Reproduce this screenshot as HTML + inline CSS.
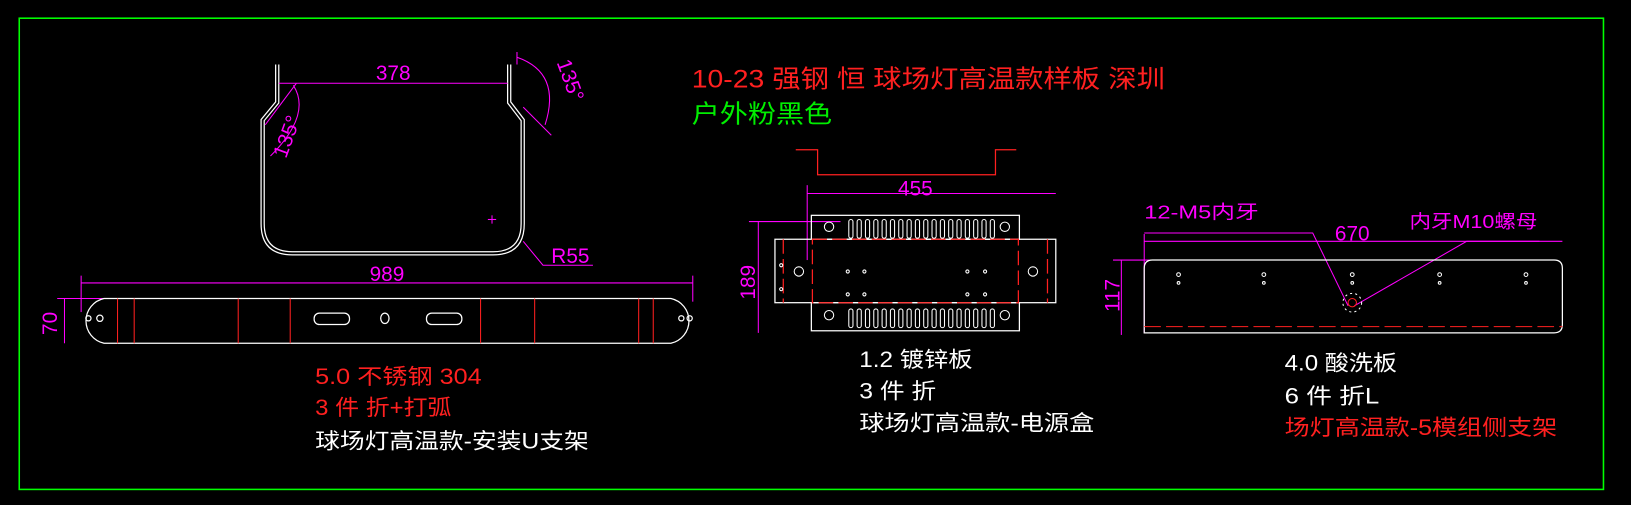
<!DOCTYPE html><html><head><meta charset="utf-8"><style>body{margin:0;background:#000;width:1631px;height:505px;overflow:hidden}svg{display:block}text{font-family:"Liberation Sans","Noto Sans CJK SC",sans-serif}</style></head><body>
<svg width="1631" height="505" viewBox="0 0 1631 505" xmlns="http://www.w3.org/2000/svg">
<g transform="scale(1.0402)">
<rect x="18.5" y="17.5" width="1523" height="453" fill="none" stroke="#00ff00" stroke-width="1.5"/>
<!-- U bracket -->
<g fill="none" stroke="#fff" stroke-width="1.2">
<path d="M265,62 V98 L251,115 V215 Q251,245 281,245 H474 Q504,245 504,215 V115 L491,98 V62"/>
<path d="M268,62 V99 L254,116 V215 Q254,242 281,242 H474 Q501,242 501,215 V116 L488,99 V62"/>
</g>
<g stroke="#ff00ff" fill="none" stroke-width="1">
<line x1="268" y1="80" x2="488" y2="80"/>
<path d="M282,82 Q300,110 260,150"/>
<line x1="255" y1="120" x2="285" y2="80"/>
<path d="M497,55 Q540,70 524,120"/>
<line x1="497" y1="50" x2="497" y2="62"/><line x1="503" y1="103" x2="530" y2="130"/>
<polyline points="503,232 522,255 570,255"/>
<line x1="469" y1="211" x2="477" y2="211"/><line x1="473" y1="207" x2="473" y2="215"/>
</g>
<text x="378" y="77" fill="#ff00ff" font-size="20" text-anchor="middle">378</text>
<text x="0" y="0" fill="#ff00ff" font-size="20" transform="translate(275,153) rotate(-70)">135°</text>
<text x="0" y="0" fill="#ff00ff" font-size="20" transform="translate(535,60) rotate(70)">135°</text>
<text x="530" y="253" fill="#ff00ff" font-size="20">R55</text>
<!-- bar -->
<g stroke="#ff00ff" stroke-width="1" fill="none">
<line x1="78" y1="272" x2="666" y2="272"/><line x1="78" y1="265" x2="78" y2="300"/><line x1="666" y1="265" x2="666" y2="290"/>
<line x1="62" y1="287" x2="62" y2="330"/><line x1="55" y1="287" x2="100" y2="287"/>
</g>
<text x="372" y="270" fill="#ff00ff" font-size="20" text-anchor="middle">989</text>
<text transform="translate(55,322) rotate(-90)" fill="#ff00ff" font-size="20">70</text>
<path d="M100,287 H645 A22,22 0 0 1 645,330 H100 A22,22 0 0 1 100,287Z" fill="none" stroke="#fff" stroke-width="1.2"/>
<g stroke="#ff2020" stroke-width="1"><line x1="113" y1="287" x2="113" y2="330"/><line x1="129" y1="287" x2="129" y2="330"/><line x1="229" y1="287" x2="229" y2="330"/><line x1="279" y1="287" x2="279" y2="330"/><line x1="462" y1="287" x2="462" y2="330"/><line x1="514" y1="287" x2="514" y2="330"/><line x1="614" y1="287" x2="614" y2="330"/><line x1="628" y1="287" x2="628" y2="330"/></g>
<g fill="none" stroke="#fff" stroke-width="1.2"><rect x="302" y="301" width="34" height="11" rx="5"/><rect x="410" y="301" width="34" height="11" rx="5"/><ellipse cx="370" cy="306" rx="4" ry="5"/><circle cx="85" cy="306" r="2.5"/><circle cx="96" cy="306" r="3"/><circle cx="655" cy="306" r="2.5"/><circle cx="663" cy="306" r="2.5"/></g>
<g font-size="21"><text x="303" y="369" fill="#ff2020" textLength="160" lengthAdjust="spacingAndGlyphs">5.0 不锈钢 304</text><text x="303" y="399" fill="#ff2020" textLength="131" lengthAdjust="spacingAndGlyphs">3 件 折+打弧</text><text x="303" y="431" fill="#fff" textLength="263" lengthAdjust="spacingAndGlyphs">球场灯高温款-安装U支架</text></g>
<text x="665" y="84" fill="#ff2020" font-size="24" textLength="455" lengthAdjust="spacingAndGlyphs">10-23 强钢 恒 球场灯高温款样板 深圳</text>
<text x="665" y="118" fill="#00ee00" font-size="24" textLength="135" lengthAdjust="spacingAndGlyphs">户外粉黑色</text>
<!-- power box -->
<polyline points="765,144 786,144 786,168 957,168 957,144 977,144" fill="none" stroke="#ff2020" stroke-width="1.2"/>
<g stroke="#ff00ff" stroke-width="1" fill="none"><line x1="776" y1="186" x2="1015" y2="186"/><line x1="776" y1="178" x2="776" y2="250"/><line x1="729" y1="213" x2="729" y2="320"/><line x1="720" y1="213" x2="808" y2="213"/></g>
<text x="880" y="188" fill="#ff00ff" font-size="20" text-anchor="middle">455</text>
<text transform="translate(726,288) rotate(-90)" fill="#ff00ff" font-size="20">189</text>
<g fill="none" stroke="#fff" stroke-width="1.2"><rect x="780" y="207" width="200" height="23"/><rect x="745" y="230" width="270" height="61"/><rect x="780" y="291" width="200" height="27"/></g>
<g fill="none" stroke="#ff2020" stroke-width="1.2" stroke-dasharray="14,5"><rect x="781" y="230" width="198" height="61"/><line x1="753" y1="230" x2="753" y2="291"/><line x1="1007" y1="230" x2="1007" y2="291"/></g>
<g fill="none" stroke="#fff" stroke-width="1">
<g id="sl"><rect x="816" y="211" width="4" height="18" rx="2"/><rect x="824" y="211" width="4" height="18" rx="2"/><rect x="832" y="211" width="4" height="18" rx="2"/><rect x="840" y="211" width="4" height="18" rx="2"/><rect x="848" y="211" width="4" height="18" rx="2"/><rect x="856" y="211" width="4" height="18" rx="2"/><rect x="864" y="211" width="4" height="18" rx="2"/><rect x="872" y="211" width="4" height="18" rx="2"/><rect x="880" y="211" width="4" height="18" rx="2"/><rect x="888" y="211" width="4" height="18" rx="2"/><rect x="896" y="211" width="4" height="18" rx="2"/><rect x="904" y="211" width="4" height="18" rx="2"/><rect x="912" y="211" width="4" height="18" rx="2"/><rect x="920" y="211" width="4" height="18" rx="2"/><rect x="928" y="211" width="4" height="18" rx="2"/><rect x="936" y="211" width="4" height="18" rx="2"/><rect x="944" y="211" width="4" height="18" rx="2"/><rect x="952" y="211" width="4" height="18" rx="2"/></g>
<use href="#sl" y="86"/>
<circle cx="797" cy="218" r="4.5"/><circle cx="966" cy="218" r="4.5"/><circle cx="797" cy="303" r="4.5"/><circle cx="966" cy="303" r="4.5"/><circle cx="768" cy="261" r="4.5"/><circle cx="993" cy="261" r="4.5"/>
<circle cx="815" cy="261" r="1.5"/><circle cx="815" cy="283" r="1.5"/><circle cx="831" cy="261" r="1.5"/><circle cx="831" cy="283" r="1.5"/><circle cx="930" cy="261" r="1.5"/><circle cx="930" cy="283" r="1.5"/><circle cx="947" cy="261" r="1.5"/><circle cx="947" cy="283" r="1.5"/><circle cx="751" cy="255" r="1.5"/><circle cx="751" cy="278" r="1.5"/>
</g>
<g font-size="21" fill="#fff"><text x="826" y="353" textLength="109" lengthAdjust="spacingAndGlyphs">1.2 镀锌板</text><text x="826" y="383" textLength="74" lengthAdjust="spacingAndGlyphs">3 件 折</text><text x="826" y="414" textLength="226" lengthAdjust="spacingAndGlyphs">球场灯高温款-电源盒</text></g>
<!-- side plate -->
<g stroke="#ff00ff" stroke-width="1" fill="none"><line x1="1100" y1="232" x2="1502" y2="232"/><line x1="1100" y1="225" x2="1100" y2="320"/><line x1="1078" y1="250" x2="1078" y2="322"/><line x1="1070" y1="250" x2="1105" y2="250"/>
<polyline points="1100,224 1262,224 1296,294"/><polyline points="1480,232 1410,232 1302,294"/></g>
<text x="1300" y="231" fill="#ff00ff" font-size="20" text-anchor="middle">670</text>
<text transform="translate(1076,300) rotate(-90)" fill="#ff00ff" font-size="20">117</text>
<text x="1100" y="210" fill="#ff00ff" font-size="18" textLength="110" lengthAdjust="spacingAndGlyphs">12-M5内牙</text>
<text x="1355" y="219" fill="#ff00ff" font-size="18" textLength="123" lengthAdjust="spacingAndGlyphs">内牙M10螺母</text>
<path d="M1108,250 H1494 Q1502,250 1502,258 V312 Q1502,320 1494,320 H1100 V258 Q1100,250 1108,250Z" fill="none" stroke="#fff" stroke-width="1.2"/>
<line x1="1100" y1="314" x2="1502" y2="314" stroke="#ff2020" stroke-dasharray="16,5"/>
<g fill="none" stroke="#fff" stroke-width="1"><circle cx="1133" cy="264" r="1.8"/><circle cx="1133" cy="272" r="1.3"/><circle cx="1215" cy="264" r="1.8"/><circle cx="1215" cy="272" r="1.3"/><circle cx="1300" cy="264" r="1.8"/><circle cx="1300" cy="272" r="1.3"/><circle cx="1384" cy="264" r="1.8"/><circle cx="1384" cy="272" r="1.3"/><circle cx="1467" cy="264" r="1.8"/><circle cx="1467" cy="272" r="1.3"/><circle cx="1300" cy="291" r="9" stroke-dasharray="2,3"/></g>
<circle cx="1300" cy="291" r="4" fill="none" stroke="#ff2020"/>
<g font-size="21"><text x="1235" y="356" fill="#fff" textLength="108" lengthAdjust="spacingAndGlyphs">4.0 酸洗板</text><text x="1235" y="388" fill="#fff" textLength="91" lengthAdjust="spacingAndGlyphs">6 件 折L</text><text x="1235" y="418" fill="#ff2020" textLength="262" lengthAdjust="spacingAndGlyphs">场灯高温款-5模组侧支架</text></g>
</g>
</svg></body></html>
